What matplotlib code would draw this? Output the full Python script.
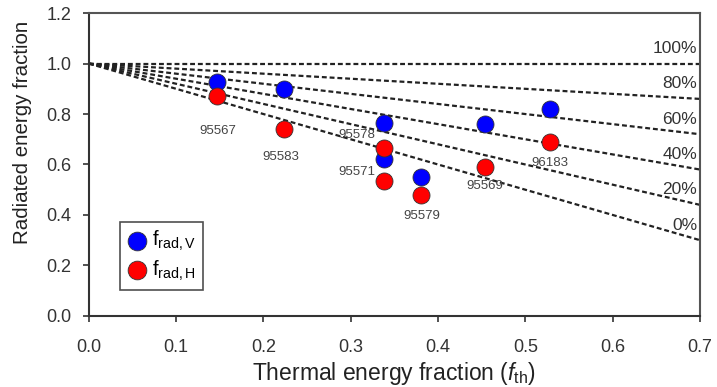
import numpy as np
import matplotlib
matplotlib.use("Agg")
import matplotlib.pyplot as plt

plt.rcParams['font.family'] = ['Liberation Sans', 'DejaVu Sans']
plt.rcParams['mathtext.fontset'] = 'custom'
plt.rcParams['mathtext.rm'] = 'Liberation Sans'
plt.rcParams['mathtext.it'] = 'Liberation Sans:italic'
plt.rcParams['mathtext.bf'] = 'Liberation Sans:bold'

# Shot data
shots = ['95567', '95583', '95578', '95571', '95579', '95569', '96183']
f_th = [0.147, 0.224, 0.338, 0.338, 0.381, 0.454, 0.528]
f_rad_v = [0.929, 0.900, 0.766, 0.622, 0.549, 0.760, 0.820]
f_rad_h = [0.872, 0.740, 0.667, 0.535, 0.479, 0.591, 0.690]
label_x = [0.148, 0.220, 0.307, 0.307, 0.381, 0.454, 0.528]
label_y = [0.734, 0.631, 0.717, 0.569, 0.396, 0.515, 0.605]

# Reference lines: fraction of thermal energy radiated
percents = [100, 80, 60, 40, 20, 0]

fig = plt.figure(figsize=(7.17, 3.87), dpi=100)
ax = fig.add_axes([0.124, 0.184, 0.852, 0.782])

x_line = np.array([0.0, 0.7])
for p in percents:
    y_line = 1.0 - (1.0 - p / 100.0) * x_line
    ax.plot(x_line, y_line, color='#222222', lw=1.6, ls=(0, (2.2, 1.3)), zorder=1)
    ax.text(0.697, y_line[-1] + 0.03, f'{p}%', ha='right', va='bottom',
            fontsize=12.5, color='#333333', zorder=2)

ax.scatter(f_th, f_rad_v, s=150, color='#0000ff', edgecolor='#333333', lw=0.6,
           zorder=3, label=r'f$_{\mathrm{rad,V}}$')
ax.scatter(f_th, f_rad_h, s=150, color='#ff0000', edgecolor='#333333', lw=0.6,
           zorder=3, label=r'f$_{\mathrm{rad,H}}$')

for name, lx, ly in zip(shots, label_x, label_y):
    ax.text(lx, ly, name, ha='center', va='center', fontsize=9.5, color='#444444', zorder=4)

ax.set_xlim(0, 0.7)
ax.set_ylim(0, 1.2)
ax.set_xticks(np.arange(0, 0.71, 0.1))
ax.set_yticks(np.arange(0, 1.21, 0.2))
ax.set_xticklabels([f'{v:.1f}' for v in np.arange(0, 0.71, 0.1)])
ax.set_yticklabels([f'{v:.1f}' for v in np.arange(0, 1.21, 0.2)])
ax.tick_params(labelsize=13, colors='#333333', length=4.5, width=1.2, direction='out')
ax.tick_params(axis='x', pad=12)
ax.tick_params(axis='y', pad=8)
ax.set_xlabel(r'Thermal energy fraction ($\mathit{f}_{\mathrm{th}}$)', fontsize=16.5, color='#222222', labelpad=3)
ax.set_ylabel('Radiated energy fraction', fontsize=14.8, color='#222222')
ax.yaxis.set_label_coords(-0.093, 0.605)

for side in ['left', 'bottom']:
    ax.spines[side].set_color('#333333')
    ax.spines[side].set_linewidth(1.5)
for side in ['top', 'right']:
    ax.spines[side].set_color('#555555')
    ax.spines[side].set_linewidth(1.5)

leg = ax.legend(loc='lower left', bbox_to_anchor=(0.051, 0.086), borderaxespad=0,
                fontsize=14.5, frameon=True, fancybox=False, edgecolor='#222222',
                handletextpad=0.25, borderpad=0.35, labelspacing=0.25, handlelength=1.0,
                markerscale=1.1)
leg.get_frame().set_linewidth(1.2)

fig.savefig('out.png', dpi=100)
